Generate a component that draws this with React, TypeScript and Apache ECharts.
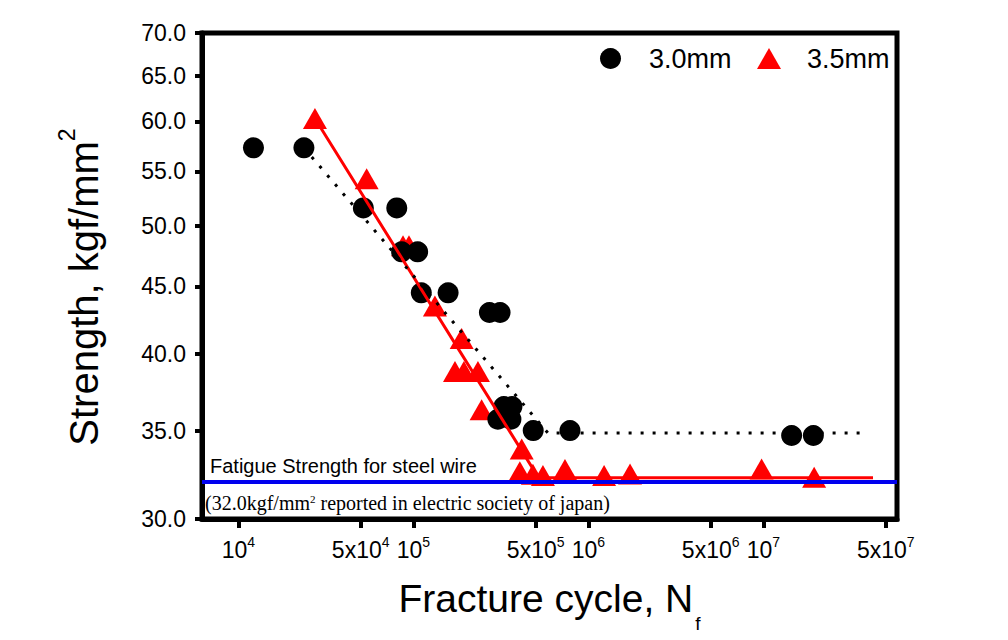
import React, { useEffect, useRef } from "react";
import * as echarts from "echarts";

// ---------- data ----------
const xTickValues = [1e4, 5e4, 1e5, 5e5, 1e6, 5e6, 1e7, 5e7];
const yTickValues = [30, 35, 40, 45, 50, 55, 60, 65, 70];

const name30 = "3.0mm";
const name35 = "3.5mm";

const cycles30 = [12200, 23700, 51800, 80400, 85700, 105800, 111000, 158000, 272000, 313000, 329000, 366000, 304000, 361000, 484000, 785000, 14500000, 19300000];
const strength30 = [57.3, 57.3, 51.6, 51.6, 47.8, 47.8, 44.5, 44.5, 43.0, 43.0, 36.5, 36.5, 35.7, 35.7, 35.0, 35.0, 34.7, 34.7];

const cycles35 = [27400, 54100, 87300, 94400, 132800, 188800, 172900, 194500, 233900, 245500, 416000, 406000, 482000, 550000, 735000, 1230000, 1730000, 9770000, 19500000];
const strength35 = [60.3, 54.3, 48.3, 48.3, 43.5, 41.1, 38.8, 38.8, 38.8, 36.3, 33.9, 32.57, 32.44, 32.37, 32.7, 32.37, 32.45, 32.73, 32.26];

const fit30Cycles = [23700, 588000, 39600000];
const fit30Strength = [57.3, 34.85, 34.85];
const fit35Cycles = [27400, 519000, 42300000];
const fit35Strength = [60.3, 32.24, 32.24];

const fatigueLimit = 32.0;
const fatigueLabel = "Fatigue Strength for steel wire";
const fatigueNoteA = "(32.0kgf/mm";
const fatigueNoteB = " reported in electric society of japan)";

const xRange = [6200, 58000000];
const yRange = [30, 70];

// ---------- helpers ----------
const FONT = "Liberation Sans";
const SERIF = "Liberation Serif";

const zip = (xs: number[], ys: number[]) => xs.map((x, i) => [x, ys[i]]);

function xLabel(v: number): string {
  const e = Math.floor(Math.log10(v) + 1e-9);
  const m = Math.round(v / Math.pow(10, e));
  return m === 1 ? `{b|10}{s|${e}}` : `{b|${m}x10}{s|${e}}`;
}

export default function App() {
  const ref = useRef<HTMLDivElement>(null);

  useEffect(() => {
    if (!ref.current) return;
    const chart = echarts.init(ref.current, null, { renderer: "svg" });
    const legendText = { fontFamily: FONT, fontSize: 27, color: "#000" };
    const option: any = {
      animation: false,
      backgroundColor: "#ffffff",
      textStyle: { fontFamily: FONT, color: "#000" },
      grid: {
        left: 202,
        right: 111,
        top: 33,
        bottom: 121,
        show: true,
        borderColor: "#000",
        borderWidth: 5,
        backgroundColor: "transparent",
      },
      legend: [
        {
          data: [{ name: name30, icon: "circle" }],
          left: 600,
          top: 45,
          padding: 0,
          itemWidth: 21,
          itemHeight: 21,
          selectedMode: false,
          textStyle: { ...legendText, padding: [0, 0, 0, 23] },
        },
        {
          data: [{ name: name35, icon: "triangle" }],
          left: 757,
          top: 45,
          padding: 0,
          itemWidth: 24,
          itemHeight: 21,
          selectedMode: false,
          textStyle: { ...legendText, padding: [0, 0, 0, 21] },
        },
      ],
      xAxis: {
        type: "log",
        logBase: 10,
        min: xRange[0],
        max: xRange[1],
        axisLine: { show: true, lineStyle: { color: "#000", width: 5 } },
        axisTick: {
          show: true,
          inside: false,
          length: 9,
          customValues: xTickValues,
          lineStyle: { color: "#000", width: 4 },
        },
        minorTick: { show: false },
        splitLine: { show: false },
        axisLabel: {
          show: true,
          margin: 14,
          customValues: xTickValues,
          formatter: xLabel,
          color: "#000",
          rich: {
            b: { fontFamily: FONT, fontSize: 23, color: "#000", padding: [5, 0, 0, 0], verticalAlign: "top" },
            s: { fontFamily: FONT, fontSize: 14, color: "#000", verticalAlign: "top", padding: [2, 0, 0, 0] },
          },
        },
        name: "{a|Fracture cycle, N}{f|f}",
        nameLocation: "middle",
        nameGap: 60,
        nameTextStyle: {
          rich: {
            a: { fontFamily: FONT, fontSize: 39, color: "#000", verticalAlign: "top" },
            f: { fontFamily: FONT, fontSize: 19, color: "#000", verticalAlign: "top", padding: [35, 0, 0, 2] },
          },
        },
      },
      yAxis: {
        type: "log",
        logBase: 10,
        min: yRange[0],
        max: yRange[1],
        axisLine: { show: true, lineStyle: { color: "#000", width: 5 } },
        axisTick: {
          show: true,
          inside: false,
          length: 7,
          customValues: yTickValues,
          lineStyle: { color: "#000", width: 4 },
        },
        minorTick: { show: false },
        splitLine: { show: false },
        axisLabel: {
          show: true,
          margin: 16,
          customValues: yTickValues,
          formatter: (v: number) => v.toFixed(1),
          fontFamily: FONT,
          fontSize: 23,
          color: "#000",
        },
        name: "{a|Strength, kgf/mm}{s|2}",
        nameLocation: "middle",
        nameGap: 98,
        nameTextStyle: {
          padding: [0, 22, 0, 0],
          rich: {
            a: { fontFamily: FONT, fontSize: 40, color: "#000", verticalAlign: "top", padding: [9, 0, 0, 0] },
            s: { fontFamily: FONT, fontSize: 23, color: "#000", verticalAlign: "top" },
          },
        },
      },
      graphic: [
        {
          type: "text",
          left: 210,
          top: 456,
          z: 10,
          style: { text: fatigueLabel, font: `20px "${FONT}"`, fill: "#000" },
        },
        {
          type: "text",
          left: 205,
          top: 493,
          z: 10,
          style: {
            text: `{a|${fatigueNoteA}}{s|2}{a|${fatigueNoteB}}`,
            rich: {
              a: { fontFamily: SERIF, fontSize: 20, fill: "#000" },
              s: { fontFamily: SERIF, fontSize: 11, fill: "#000", verticalAlign: "top" },
            },
          },
        },
      ],
      series: [
        {
          name: name35,
          type: "scatter",
          data: zip(cycles35, strength35),
          symbol: "triangle",
          symbolSize: [24, 21],
          itemStyle: { color: "#ff0000", opacity: 1 },
          z: 2,
        },
        {
          name: name30,
          type: "scatter",
          data: zip(cycles30, strength30),
          symbol: "circle",
          symbolSize: 21,
          itemStyle: { color: "#000000", opacity: 1 },
          z: 3,
        },
        {
          name: "fit 3.5mm",
          type: "line",
          data: zip(fit35Cycles, fit35Strength),
          showSymbol: false,
          symbol: "none",
          lineStyle: { color: "#ff0000", width: 3 },
          z: 4,
        },
        {
          name: "fit 3.0mm",
          type: "line",
          data: zip(fit30Cycles, fit30Strength),
          showSymbol: false,
          symbol: "none",
          lineStyle: { color: "#000000", width: 3, type: [3, 9] },
          z: 4,
        },
        {
          name: "fatigue limit",
          type: "line",
          data: [],
          z: 5,
          markLine: {
            silent: true,
            symbol: "none",
            label: { show: false },
            lineStyle: { color: "#0000ee", width: 4, type: "solid" },
            data: [{ yAxis: fatigueLimit }],
          },
        },
      ],
    };
    chart.setOption(option);
    return () => chart.dispose();
  }, []);

  return (
    <div
      ref={ref}
      style={{ position: "absolute", left: 0, top: 0, width: 1008, height: 640, background: "#fff" }}
    />
  );
}
